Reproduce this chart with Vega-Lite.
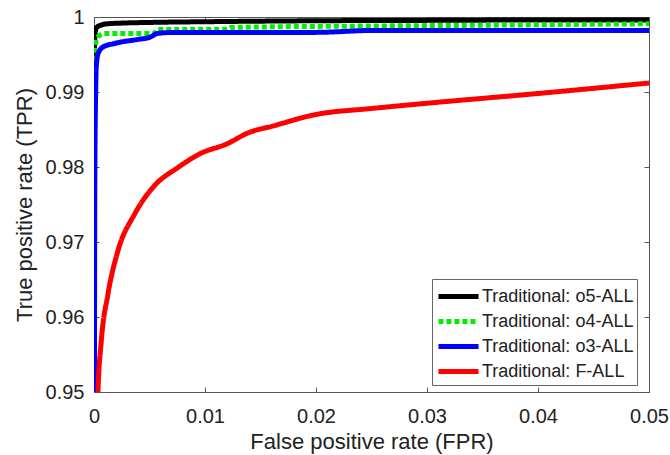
{
  "$schema": "https://vega.github.io/schema/vega-lite/v6.json",
  "width": 555,
  "height": 375,
  "padding": {"left": 13, "top": 7, "right": 10, "bottom": 5},
  "background": "white",
  "config": {
    "font": "Liberation Sans",
    "view": {"stroke": "#555", "strokeWidth": 1},
    "axis": {"domainColor": "#555", "tickColor": "#555", "labelColor": "#222", "titleColor": "#222", "grid": false}
  },
  "data": {
    "values": [
      {"s": "Traditional: o5-ALL", "fpr": 0, "tpr": 0.9929},
      {"s": "Traditional: o5-ALL", "fpr": 0.00005, "tpr": 0.9960},
      {"s": "Traditional: o5-ALL", "fpr": 0.0001, "tpr": 0.9980},
      {"s": "Traditional: o5-ALL", "fpr": 0.0003, "tpr": 0.9987},
      {"s": "Traditional: o5-ALL", "fpr": 0.0012, "tpr": 0.9991},
      {"s": "Traditional: o5-ALL", "fpr": 0.0024, "tpr": 0.99918},
      {"s": "Traditional: o5-ALL", "fpr": 0.006, "tpr": 0.9993},
      {"s": "Traditional: o5-ALL", "fpr": 0.01, "tpr": 0.99937},
      {"s": "Traditional: o5-ALL", "fpr": 0.02, "tpr": 0.9995},
      {"s": "Traditional: o5-ALL", "fpr": 0.03, "tpr": 0.99955},
      {"s": "Traditional: o5-ALL", "fpr": 0.04, "tpr": 0.9996},
      {"s": "Traditional: o5-ALL", "fpr": 0.05, "tpr": 0.9996},
      {"s": "Traditional: o4-ALL", "fpr": 0, "tpr": 0.992},
      {"s": "Traditional: o4-ALL", "fpr": 0.0001, "tpr": 0.9960},
      {"s": "Traditional: o4-ALL", "fpr": 0.00036, "tpr": 0.99736},
      {"s": "Traditional: o4-ALL", "fpr": 0.00096, "tpr": 0.9978},
      {"s": "Traditional: o4-ALL", "fpr": 0.0054, "tpr": 0.9978},
      {"s": "Traditional: o4-ALL", "fpr": 0.0057, "tpr": 0.99835},
      {"s": "Traditional: o4-ALL", "fpr": 0.012, "tpr": 0.99835},
      {"s": "Traditional: o4-ALL", "fpr": 0.0123, "tpr": 0.9986},
      {"s": "Traditional: o4-ALL", "fpr": 0.025, "tpr": 0.9988},
      {"s": "Traditional: o4-ALL", "fpr": 0.035, "tpr": 0.9989},
      {"s": "Traditional: o4-ALL", "fpr": 0.05, "tpr": 0.9991},
      {"s": "Traditional: o3-ALL", "fpr": 0.00003, "tpr": 0.94},
      {"s": "Traditional: o3-ALL", "fpr": 0.00008, "tpr": 0.98},
      {"s": "Traditional: o3-ALL", "fpr": 0.00015, "tpr": 0.99},
      {"s": "Traditional: o3-ALL", "fpr": 0.0002, "tpr": 0.9933},
      {"s": "Traditional: o3-ALL", "fpr": 0.00036, "tpr": 0.9951},
      {"s": "Traditional: o3-ALL", "fpr": 0.00081, "tpr": 0.9960},
      {"s": "Traditional: o3-ALL", "fpr": 0.00185, "tpr": 0.99647},
      {"s": "Traditional: o3-ALL", "fpr": 0.00394, "tpr": 0.99701},
      {"s": "Traditional: o3-ALL", "fpr": 0.00499, "tpr": 0.99728},
      {"s": "Traditional: o3-ALL", "fpr": 0.00573, "tpr": 0.99781},
      {"s": "Traditional: o3-ALL", "fpr": 0.00723, "tpr": 0.99795},
      {"s": "Traditional: o3-ALL", "fpr": 0.02, "tpr": 0.99795},
      {"s": "Traditional: o3-ALL", "fpr": 0.025, "tpr": 0.9982},
      {"s": "Traditional: o3-ALL", "fpr": 0.05, "tpr": 0.9982},
      {"s": "Traditional: F-ALL", "fpr": 0.0002, "tpr": 0.94},
      {"s": "Traditional: F-ALL", "fpr": 0.00036, "tpr": 0.95},
      {"s": "Traditional: F-ALL", "fpr": 0.00065, "tpr": 0.9567},
      {"s": "Traditional: F-ALL", "fpr": 0.00125, "tpr": 0.9630},
      {"s": "Traditional: F-ALL", "fpr": 0.00215, "tpr": 0.9688},
      {"s": "Traditional: F-ALL", "fpr": 0.00365, "tpr": 0.9737},
      {"s": "Traditional: F-ALL", "fpr": 0.00544, "tpr": 0.9775},
      {"s": "Traditional: F-ALL", "fpr": 0.00753, "tpr": 0.9799},
      {"s": "Traditional: F-ALL", "fpr": 0.00959, "tpr": 0.9818},
      {"s": "Traditional: F-ALL", "fpr": 0.012, "tpr": 0.9831},
      {"s": "Traditional: F-ALL", "fpr": 0.0138, "tpr": 0.9845},
      {"s": "Traditional: F-ALL", "fpr": 0.0162, "tpr": 0.9855},
      {"s": "Traditional: F-ALL", "fpr": 0.02, "tpr": 0.9870},
      {"s": "Traditional: F-ALL", "fpr": 0.025, "tpr": 0.9878},
      {"s": "Traditional: F-ALL", "fpr": 0.03, "tpr": 0.9885},
      {"s": "Traditional: F-ALL", "fpr": 0.04, "tpr": 0.9898},
      {"s": "Traditional: F-ALL", "fpr": 0.05, "tpr": 0.9912}
    ]
  },
  "layer": [
    {
      "mark": {"type": "line", "clip": true, "strokeWidth": 5, "interpolate": "monotone"},
      "encoding": {
        "x": {"field": "fpr", "type": "quantitative", "scale": {"domain": [0, 0.05], "nice": false, "zero": false},
          "axis": {"orient": "bottom", "values": [0, 0.01, 0.02, 0.03, 0.04, 0.05], "format": ".2~f", "title": "False positive rate (FPR)",
            "labelFontSize": 20, "titleFontSize": 22, "titleFontWeight": "normal", "tickSize": -5, "labelPadding": 19, "titlePadding": 5, "labelFlush": false}},
        "y": {"field": "tpr", "type": "quantitative", "scale": {"domain": [0.95, 1], "nice": false, "zero": false},
          "axis": {"orient": "left", "values": [0.95, 0.96, 0.97, 0.98, 0.99, 1], "format": ".2~f", "title": "True positive rate (TPR)",
            "labelFontSize": 20, "titleFontSize": 22, "titleFontWeight": "normal", "tickSize": -5, "labelPadding": 15, "titlePadding": 9, "labelFlush": false}},
        "color": {"field": "s", "type": "nominal", "title": null,
          "scale": {"domain": ["Traditional: o5-ALL", "Traditional: o4-ALL", "Traditional: o3-ALL", "Traditional: F-ALL"], "range": ["#000000", "#00ee00", "#0000ff", "#ff0000"]},
          "legend": {"orient": "none", "legendX": 338, "legendY": 262, "symbolType": "M-1.67,0H1.67", "symbolSize": 576, "symbolStrokeWidth": 5, "symbolOffset": 9,
            "labelFontSize": 18, "labelColor": "#222", "strokeColor": "#666", "fillColor": "white", "padding": 3, "rowPadding": 0, "labelLimit": 300, "labelOffset": 9}},
        "strokeDash": {"field": "s", "type": "nominal", "title": null,
          "scale": {"domain": ["Traditional: o5-ALL", "Traditional: o4-ALL", "Traditional: o3-ALL", "Traditional: F-ALL"], "range": [[1, 0], [5, 3], [1, 0], [1, 0]]}}
      }
    },
    {
      "mark": {"type": "point", "opacity": 0},
      "encoding": {
        "x": {"field": "fpr", "type": "quantitative", "axis": {"orient": "top", "values": [0, 0.01, 0.02, 0.03, 0.04, 0.05], "labels": false, "title": null, "tickSize": -5}},
        "y": {"field": "tpr", "type": "quantitative", "axis": {"orient": "right", "values": [0.95, 0.96, 0.97, 0.98, 0.99, 1], "labels": false, "title": null, "tickSize": -5}}
      }
    }
  ],
  "resolve": {"axis": {"x": "independent", "y": "independent"}}
}
